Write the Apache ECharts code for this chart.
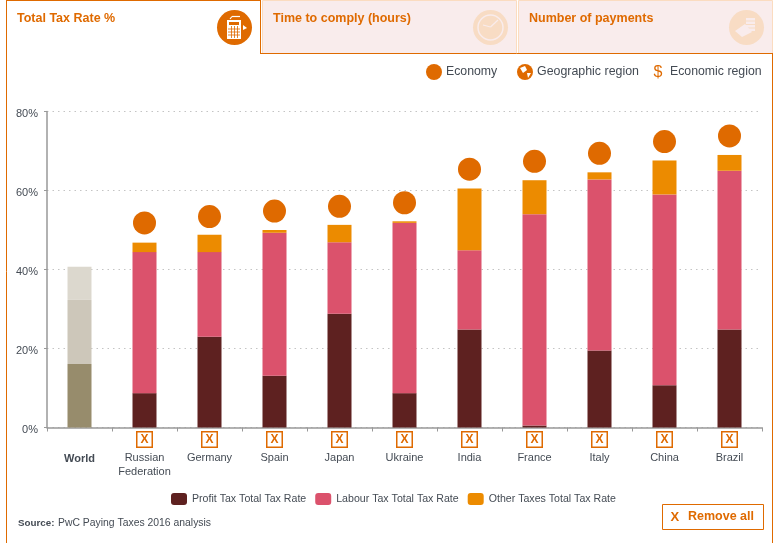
<!DOCTYPE html>
<html>
<head>
<meta charset="utf-8">
<title>Total Tax Rate</title>
<style>
  html, body { margin: 0; padding: 0; background: #fff; }
  #chart { width: 775px; height: 543px; }
</style>
<script src="https://cdn.jsdelivr.net/npm/echarts@6/dist/echarts.min.js"></script>
</head>
<body>
<div id="chart"></div>
<script>
// data
var categories = ['World', 'Russian\nFederation', 'Germany', 'Spain', 'Japan', 'Ukraine', 'India', 'France', 'Italy', 'China', 'Brazil'];
var profitTax = [16.1, 8.7, 23, 13.1, 28.8, 8.7, 24.8, 0.5, 19.5, 10.7, 24.8];
var labourTax = [16.2, 35.7, 21.4, 36.2, 18.1, 43.1, 20.1, 53.5, 43.3, 48.3, 40.2];
var otherTax = [8.4, 2.4, 4.4, 0.7, 4.4, 0.4, 15.6, 8.6, 1.8, 8.6, 4];
var economy = ['-', 51.8, 53.4, 54.8, 56, 56.9, 65.4, 67.4, 69.4, 72.4, 73.8];
var yTicks = [0, 20, 40, 60, 80];

var ORANGE = '#df6a00';
var TEXT = '#444b54';
var FONT = 'Liberation Sans, Arial, sans-serif';
var PROFIT = '#5e2120', LABOUR = '#db526c', OTHER = '#ec8b00';

function barSeries(name, values, color, worldColor) {
  return {
    name: name,
    type: 'bar',
    stack: 'tax',
    barWidth: 24,
    data: values,
    itemStyle: {
      color: function (p) { return p.dataIndex === 0 ? worldColor : color; }
    }
  };
}

function txt(x, y, text, opt) {
  opt = opt || {};
  return {
    type: 'text', x: x, y: y, z: 10,
    style: {
      text: text,
      fill: opt.fill || TEXT,
      font: (opt.weight || 'normal') + ' ' + (opt.size || 12) + 'px ' + FONT,
      textAlign: opt.align || 'left',
      textVerticalAlign: 'middle'
    }
  };
}
function rect(x, y, w, h, style) {
  return { type: 'rect', shape: { x: x, y: y, width: w, height: h }, style: style, z: 5 };
}
function line(x1, y1, x2, y2, color, w) {
  return { type: 'line', shape: { x1: x1, y1: y1, x2: x2, y2: y2 }, style: { stroke: color, lineWidth: w }, z: 5 };
}
function circle(cx, cy, r, fill) {
  return { type: 'circle', shape: { cx: cx, cy: cy, r: r }, style: { fill: fill }, z: 5 };
}
function poly(points, fill) {
  return { type: 'polygon', shape: { points: points }, style: { fill: fill }, z: 5 };
}

var tabFill = '#f9ecec', tabLine = '#fbdcc0', iconFill = '#f8dcc4';

var frame = [
  rect(262.5, 0.5, 254, 53, { fill: tabFill, stroke: tabLine, lineWidth: 1 }),
  rect(518.5, 0.5, 254, 53, { fill: tabFill, stroke: tabLine, lineWidth: 1 }),
  line(6.5, 0, 6.5, 543, ORANGE, 1),
  line(6, 0.5, 261, 0.5, ORANGE, 1),
  line(260.5, 0, 260.5, 54, ORANGE, 1),
  line(260, 53.5, 773, 53.5, ORANGE, 1),
  line(772.5, 53, 772.5, 543, ORANGE, 1),
  txt(17, 19, 'Total Tax Rate %', { fill: ORANGE, weight: 'bold', size: 12.5 }),
  txt(273, 19, 'Time to comply (hours)', { fill: ORANGE, weight: 'bold', size: 12.5 }),
  txt(529, 19, 'Number of payments', { fill: ORANGE, weight: 'bold', size: 12.5 })
];

var icons = [
  // calculator
  circle(234.5, 27.5, 17.5, ORANGE),
  rect(227, 20, 14, 19, { fill: '#fff' }),
  rect(229, 22, 10, 3, { fill: ORANGE }),
  line(231.5, 26, 231.5, 38, ORANGE, 0.8),
  line(234.5, 26, 234.5, 38, ORANGE, 0.8),
  line(237.5, 26, 237.5, 38, ORANGE, 0.8),
  line(228, 29, 240, 29, ORANGE, 0.8),
  line(228, 32, 240, 32, ORANGE, 0.8),
  line(228, 35, 240, 35, ORANGE, 0.8),
  poly([[243, 25], [247, 28], [243, 30]], '#fff'),
  line(230, 19, 232, 16.5, '#fff', 1.2),
  line(232, 16.5, 240, 16.5, '#fff', 1.2),
  // clock
  circle(490.5, 27.5, 17.5, iconFill),
  { type: 'circle', shape: { cx: 490.5, cy: 27.5, r: 12.5 }, style: { fill: 'none', stroke: tabFill, lineWidth: 1.5 }, z: 5 },
  line(490.5, 27, 483, 25, tabFill, 1.2),
  line(490.5, 27, 498, 20, tabFill, 1.2),
  // money
  circle(746.5, 27.5, 17.5, iconFill),
  poly([[735, 31], [745, 24], [752, 32], [742, 37]], tabFill),
  rect(746, 18, 9, 2.5, { fill: tabFill }),
  rect(746, 21.5, 9, 2.5, { fill: tabFill }),
  rect(746, 25, 9, 2.5, { fill: tabFill }),
  rect(746, 28.5, 9, 2.5, { fill: tabFill })
];

// top right key
var topKey = [
  circle(434, 72, 8, ORANGE),
  txt(446, 71.5, 'Economy', { size: 12.3 }),
  circle(525, 72, 8, ORANGE),
  poly([[520, 68], [525, 66], [527, 70], [523, 73]], '#fff'),
  poly([[527, 73], [531, 73], [528, 78]], '#fff'),
  txt(537, 71.5, 'Geographic region', { size: 12.4 }),
  txt(658, 73, '$', { fill: ORANGE, size: 16, align: 'center' }),
  txt(670, 71.5, 'Economic region', { size: 12.3 })
];

var footer = [
  txt(18, 523.5, 'Source:', { weight: 'bold', size: 9.8 }),
  txt(58, 523.5, 'PwC Paying Taxes 2016 analysis', { size: 10.4 }),
  rect(662.5, 504.5, 101, 25, { fill: '#fff', stroke: ORANGE, lineWidth: 1 }),
  txt(670.5, 517, 'X', { fill: ORANGE, weight: 'bold', size: 13 }),
  txt(688, 517, 'Remove all', { fill: ORANGE, weight: 'bold', size: 12.5 })
];

var chart = echarts.init(document.getElementById('chart'), null, { renderer: 'canvas' });
chart.setOption({
  animation: false,
  backgroundColor: '#fff',
  textStyle: { fontFamily: FONT },
  grid: { left: 47, right: 13, top: 111.5, height: 316, containLabel: false },
  legend: {
    data: [
      { name: 'Profit Tax Total Tax Rate', itemStyle: { color: PROFIT } },
      { name: 'Labour Tax Total Tax Rate', itemStyle: { color: LABOUR } },
      { name: 'Other Taxes Total Tax Rate', itemStyle: { color: OTHER } }
    ],
    left: 171,
    top: 493,
    padding: 0,
    itemWidth: 16,
    itemHeight: 12,
    itemGap: 9,
    icon: 'roundRect',
    selectedMode: false,
    textStyle: { color: TEXT, fontSize: 10.6, fontFamily: FONT }
  },
  xAxis: {
    type: 'category',
    data: categories,
    axisLine: { lineStyle: { color: '#999', width: 1.5 } },
    axisTick: { show: true, length: 4, alignWithLabel: false, lineStyle: { color: '#999' } },
    axisLabel: {
      interval: 0,
      margin: 5,
      color: TEXT,
      fontSize: 11,
      formatter: function (v, i) {
        var head = i === 0 ? '{blank| }' : '{box|X}';
        var style = i === 0 ? 'bold' : 'name';
        var lines = v.split('\n').map(function (s) { return '{' + style + '|' + s + '}'; });
        return head + '\n{gap| }\n' + lines.join('\n');
      },
      rich: {
        blank: { height: 15, lineHeight: 15, fontSize: 11 },
        gap: { height: 4, lineHeight: 4, fontSize: 2 },
        box: {
          width: 14, height: 14, lineHeight: 14, align: 'center',
          color: ORANGE, fontWeight: 'bold', fontSize: 12, fontFamily: FONT,
          borderColor: ORANGE, borderWidth: 1.5, backgroundColor: '#fff'
        },
        name: { color: TEXT, fontSize: 11, lineHeight: 14, fontFamily: FONT },
        bold: { color: TEXT, fontSize: 11, fontWeight: 'bold', lineHeight: 14, fontFamily: FONT }
      }
    }
  },
  yAxis: {
    type: 'value',
    min: yTicks[0],
    max: yTicks[yTicks.length - 1],
    interval: 20,
    axisLine: { show: true, lineStyle: { color: '#999', width: 1.5 } },
    axisTick: { show: true, length: 3, lineStyle: { color: '#999' } },
    axisLabel: { color: TEXT, fontSize: 11, margin: 9, verticalAlign: 'top', lineHeight: 5, formatter: '{value}%' },
    splitLine: { show: true, lineStyle: { color: '#c4c4c4', type: [1.5, 4], width: 1 } }
  },
  series: [
    barSeries('Profit Tax Total Tax Rate', profitTax, PROFIT, '#978c6c'),
    barSeries('Labour Tax Total Tax Rate', labourTax, LABOUR, '#cdc7ba'),
    barSeries('Other Taxes Total Tax Rate', otherTax, OTHER, '#dcd8ce'),
    {
      name: 'Economy',
      type: 'scatter',
      symbol: 'circle',
      symbolSize: 23,
      data: economy,
      itemStyle: { color: ORANGE, opacity: 1 },
      z: 4
    }
  ],
  graphic: { elements: frame.concat(icons, topKey, footer) }
});
</script>
</body>
</html>
